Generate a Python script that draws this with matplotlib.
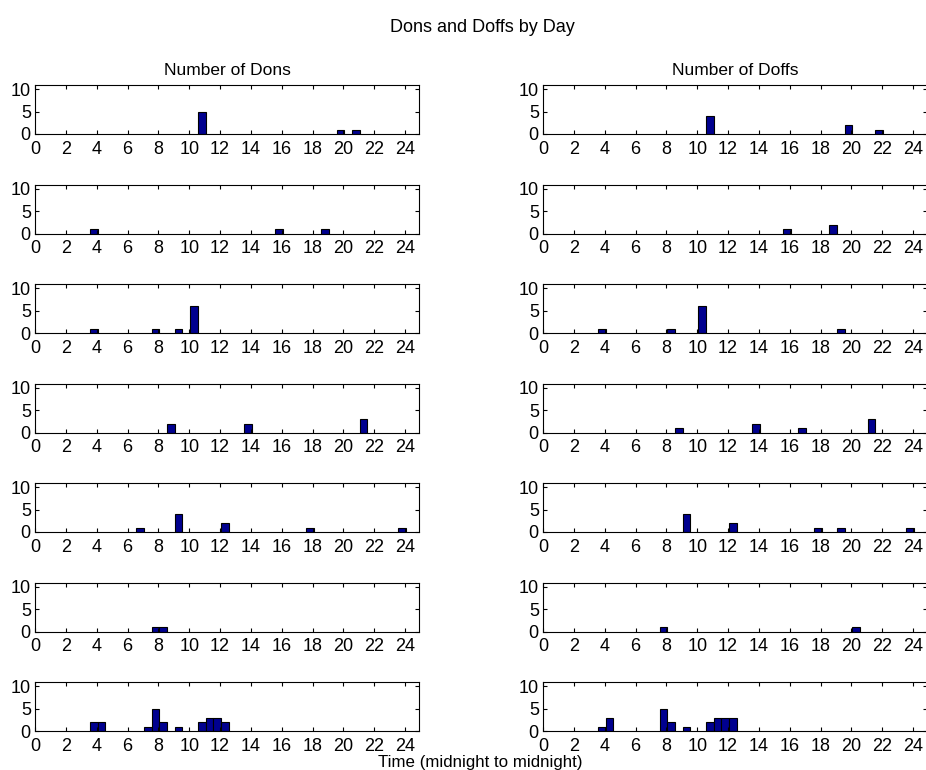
import matplotlib
matplotlib.use("Agg")
import matplotlib.pyplot as plt

plt.rcParams["font.family"] = ["Liberation Sans", "DejaVu Sans"]

# Bin start times (hours) and counts per day, 0.5-hour bins
dons_d1_t = [10.5, 19.5, 20.5]
dons_d1_n = [5, 1, 1]
dons_d2_t = [3.5, 15.5, 18.5]
dons_d2_n = [1, 1, 1]
dons_d3_t = [3.5, 7.5, 9.0, 10.0]
dons_d3_n = [1, 1, 1, 6]
dons_d4_t = [8.5, 13.5, 21.0]
dons_d4_n = [2, 2, 3]
dons_d5_t = [6.5, 9.0, 12.0, 17.5, 23.5]
dons_d5_n = [1, 4, 2, 1, 1]
dons_d6_t = [7.5, 8.0]
dons_d6_n = [1, 1]
dons_d7_t = [3.5, 4.0, 7.0, 7.5, 8.0, 9.0, 10.5, 11.0, 11.5, 12.0]
dons_d7_n = [2, 2, 1, 5, 2, 1, 2, 3, 3, 2]

doffs_d1_t = [10.5, 19.5, 21.5]
doffs_d1_n = [4, 2, 1]
doffs_d2_t = [15.5, 18.5]
doffs_d2_n = [1, 2]
doffs_d3_t = [3.5, 8.0, 10.0, 19.0]
doffs_d3_n = [1, 1, 6, 1]
doffs_d4_t = [8.5, 13.5, 16.5, 21.0]
doffs_d4_n = [1, 2, 1, 3]
doffs_d5_t = [9.0, 12.0, 17.5, 19.0, 23.5]
doffs_d5_n = [4, 2, 1, 1, 1]
doffs_d6_t = [7.5, 20.0]
doffs_d6_n = [1, 1]
doffs_d7_t = [3.5, 4.0, 7.5, 8.0, 9.0, 10.5, 11.0, 11.5, 12.0]
doffs_d7_n = [1, 3, 5, 2, 1, 2, 3, 3, 3]

dons = [(dons_d1_t, dons_d1_n), (dons_d2_t, dons_d2_n), (dons_d3_t, dons_d3_n),
        (dons_d4_t, dons_d4_n), (dons_d5_t, dons_d5_n), (dons_d6_t, dons_d6_n),
        (dons_d7_t, dons_d7_n)]
doffs = [(doffs_d1_t, doffs_d1_n), (doffs_d2_t, doffs_d2_n), (doffs_d3_t, doffs_d3_n),
         (doffs_d4_t, doffs_d4_n), (doffs_d5_t, doffs_d5_n), (doffs_d6_t, doffs_d6_n),
         (doffs_d7_t, doffs_d7_n)]

x_ticks = list(range(0, 25, 2))
y_ticks = [0, 5, 10]
col_titles = ["Number of Dons", "Number of Doffs"]

BIN_W = 0.5
BIN_OFFSET = 0.06
FACE = (0, 0, 0.5625)

W, H = 926, 770
fig = plt.figure(figsize=(W / 100, H / 100), dpi=100)

col_left_px = [35, 543]
ax_w_px = 384
ax_h_px = 49
row_bottom_px0 = 134
row_step_px = 99.5

for c, series in enumerate([dons, doffs]):
    for r, (t, n) in enumerate(series):
        bottom_px = row_bottom_px0 + r * row_step_px
        ax = fig.add_axes([col_left_px[c] / W, 1 - bottom_px / H,
                           ax_w_px / W, ax_h_px / H])
        ax.bar([v + BIN_OFFSET for v in t], n, width=BIN_W, align="edge",
               color=FACE, edgecolor="black", linewidth=0.8)
        ax.set_xlim(0, 24.9)
        ax.set_ylim(0, 11)
        ax.set_xticks(x_ticks)
        ax.set_yticks(y_ticks)
        ax.tick_params(direction="in", top=True, right=True, length=3,
                       labelsize=13, width=0.8)
        ax.tick_params(axis="x", pad=5)
        ax.tick_params(axis="y", pad=3)
        for s in ax.spines.values():
            s.set_linewidth(0.8)
        if r == 0:
            ax.set_title(col_titles[c], fontsize=12.5, pad=7)

fig.text(482 / W, 1 - 28 / H, "Dons and Doffs by Day", ha="center", va="center",
         fontsize=13)
fig.text(480 / W, 1 - 763 / H, "Time (midnight to midnight)", ha="center",
         va="center", fontsize=12.2)

fig.savefig("out.png", dpi=100)
